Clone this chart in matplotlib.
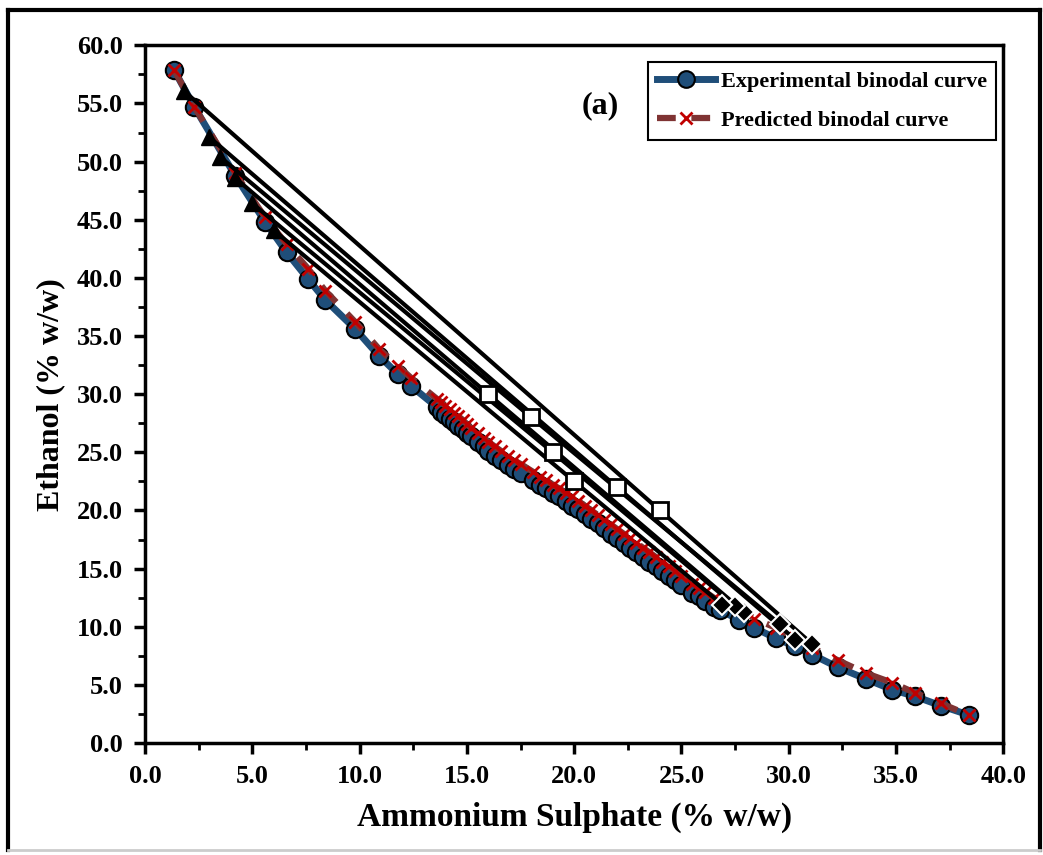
import numpy as np
from matplotlib import pyplot as plt
from matplotlib.lines import Line2D

plt.rcParams['font.family'] = ['Liberation Serif', 'DejaVu Serif']
plt.rcParams['font.weight'] = 'bold'

# experimental binodal curve
exp_x = [1.35, 2.3, 4.2, 5.6, 6.6, 7.6, 8.4, 9.8, 10.9, 11.8, 12.4,
         13.6, 13.8, 14.0, 14.2, 14.4, 14.6, 14.8, 15.0, 15.2, 15.5, 15.8, 16.0,
         16.3, 16.6, 16.9, 17.2, 17.5, 18.1, 18.4, 18.7, 19.0, 19.3, 19.6, 19.9,
         20.2, 20.5, 20.8, 21.1, 21.4, 21.7, 22.0, 22.3, 22.6, 22.9, 23.2, 23.5,
         23.8, 24.1, 24.4, 24.7, 25.0, 25.5, 25.8, 26.1, 26.5, 26.8,
         27.7, 28.4, 29.4, 30.3, 31.1, 32.3, 33.6, 34.8, 35.9, 37.1, 38.4]
exp_y = [57.9, 54.7, 48.8, 44.8, 42.2, 39.9, 38.1, 35.6, 33.3, 31.7, 30.7,
         28.9, 28.5, 28.2, 27.9, 27.6, 27.3, 27.0, 26.7, 26.4, 25.9, 25.5, 25.1,
         24.7, 24.3, 23.9, 23.6, 23.2, 22.6, 22.2, 21.9, 21.5, 21.2, 20.8, 20.4,
         20.1, 19.7, 19.3, 18.9, 18.5, 18.0, 17.6, 17.2, 16.8, 16.4, 16.0, 15.6,
         15.2, 14.8, 14.4, 14.0, 13.6, 12.9, 12.6, 12.2, 11.7, 11.4,
         10.6, 9.9, 9.0, 8.3, 7.6, 6.5, 5.5, 4.6, 4.0, 3.2, 2.4]

# predicted binodal curve (same compositions)
pred_x = exp_x
pred_y = [57.9, 54.7, 49.0, 45.2, 42.9, 40.8, 38.9, 36.2, 33.9, 32.4, 31.4,
          29.6, 29.3, 29.0, 28.7, 28.4, 28.1, 27.8, 27.4, 27.1, 26.7, 26.2, 25.9,
          25.5, 25.1, 24.7, 24.3, 24.0, 23.3, 22.9, 22.6, 22.2, 21.9, 21.5, 21.2,
          20.8, 20.4, 20.0, 19.6, 19.2, 18.8, 18.4, 18.0, 17.6, 17.2, 16.8, 16.4,
          16.0, 15.6, 15.2, 14.8, 14.4, 13.7, 13.3, 13.0, 12.5, 12.1,
          11.5, 10.7, 9.9, 9.0, 8.2, 7.1, 6.0, 5.2, 4.3, 3.4, 2.4]

# tie lines: top phase, feed composition, bottom phase
top_x = [1.8, 3.0, 3.5, 4.2, 5.0, 6.0]
top_y = [56.1, 52.1, 50.4, 48.6, 46.4, 44.1]
feed_x = [24, 22, 18, 16, 19, 20]
feed_y = [20, 22, 28, 30, 25, 22.5]
bot_x = [31.1, 30.3, 29.6, 27.9, 27.5, 26.9]
bot_y = [8.5, 8.9, 10.2, 11.3, 11.8, 11.9]

fig = plt.figure(figsize=(10.43, 8.55), dpi=100)
ax = fig.add_axes([0.139, 0.131, 0.823, 0.816])

blue = '#1F4E79'
dred = '#7F3333'

ax.plot(exp_x, exp_y, color=blue, lw=5, marker='o', ms=12.5, mfc=blue, mec='black', mew=1.5, zorder=2)
ax.plot(pred_x, pred_y, color=dred, lw=4.5, ls=(0, (3.5, 2.5)), marker='x', ms=9, mec='#C00000', mew=2, zorder=3)

for i in range(len(top_x)):
    ax.plot([top_x[i], feed_x[i], bot_x[i]], [top_y[i], feed_y[i], bot_y[i]], color='black', lw=3, zorder=4)
ax.plot(top_x, top_y, ls='none', marker='^', ms=11, color='black', zorder=5)
ax.plot(bot_x, bot_y, ls='none', marker='D', ms=10, mfc='black', mec='white', mew=1.5, zorder=5)
ax.plot(feed_x, feed_y, ls='none', marker='s', ms=12, mfc='white', mec='black', mew=2, zorder=6)

ax.set_xlim(0, 40)
ax.set_ylim(0, 60)
ax.set_xticks(np.arange(0, 40.1, 5))
ax.set_yticks(np.arange(0, 60.1, 5))
ax.set_xticks(np.arange(0, 40.1, 2.5), minor=True)
ax.set_yticks(np.arange(0, 60.1, 2.5), minor=True)
ax.set_xticklabels(['{:.1f}'.format(v) for v in np.arange(0, 40.1, 5)])
ax.set_yticklabels(['{:.1f}'.format(v) for v in np.arange(0, 60.1, 5)])
ax.tick_params(which='major', direction='out', length=8, width=2.5, labelsize=19, pad=8)
ax.tick_params(which='minor', direction='out', length=5, width=2)
for lab in ax.get_xticklabels() + ax.get_yticklabels():
    lab.set_fontweight('bold')
for s in ax.spines.values():
    s.set_linewidth(2.5)

ax.set_xlabel('Ammonium Sulphate (% w/w)', fontsize=24, fontweight='bold', labelpad=10)
ax.set_ylabel('Ethanol (% w/w)', fontsize=23, fontweight='bold', labelpad=8)

ax.text(0.53, 0.914, '(a)', transform=ax.transAxes, fontsize=23, fontweight='bold', ha='center', va='center')

handles = [Line2D([], [], color=blue, lw=5, marker='o', ms=12, mfc=blue, mec='black', mew=1.5),
           Line2D([], [], color=dred, lw=4.5, ls=(0, (3, 2.5)), marker='x', ms=9, mec='#C00000', mew=2)]
leg = ax.legend(handles, ['Experimental binodal curve', 'Predicted binodal curve'],
                loc='upper right', bbox_to_anchor=(0.991, 0.976), borderaxespad=0,
                fancybox=False, edgecolor='black', framealpha=1, handlelength=2.6,
                prop={'size': 16, 'weight': 'bold'}, labelspacing=0.85, handletextpad=0.25)
leg.get_frame().set_linewidth(1.5)

# outer chart border
fig.add_artist(Line2D([0.008, 0.008], [0.006, 0.988], color='black', lw=3, transform=fig.transFigure))
fig.add_artist(Line2D([0.008, 0.997], [0.988, 0.988], color='black', lw=3, transform=fig.transFigure))
fig.add_artist(Line2D([0.997, 0.997], [0.006, 0.988], color='black', lw=3, transform=fig.transFigure))
fig.add_artist(Line2D([0.008, 0.997], [0.006, 0.006], color='#CCCCCC', lw=2, transform=fig.transFigure))

fig.savefig('out.png', dpi=100)
